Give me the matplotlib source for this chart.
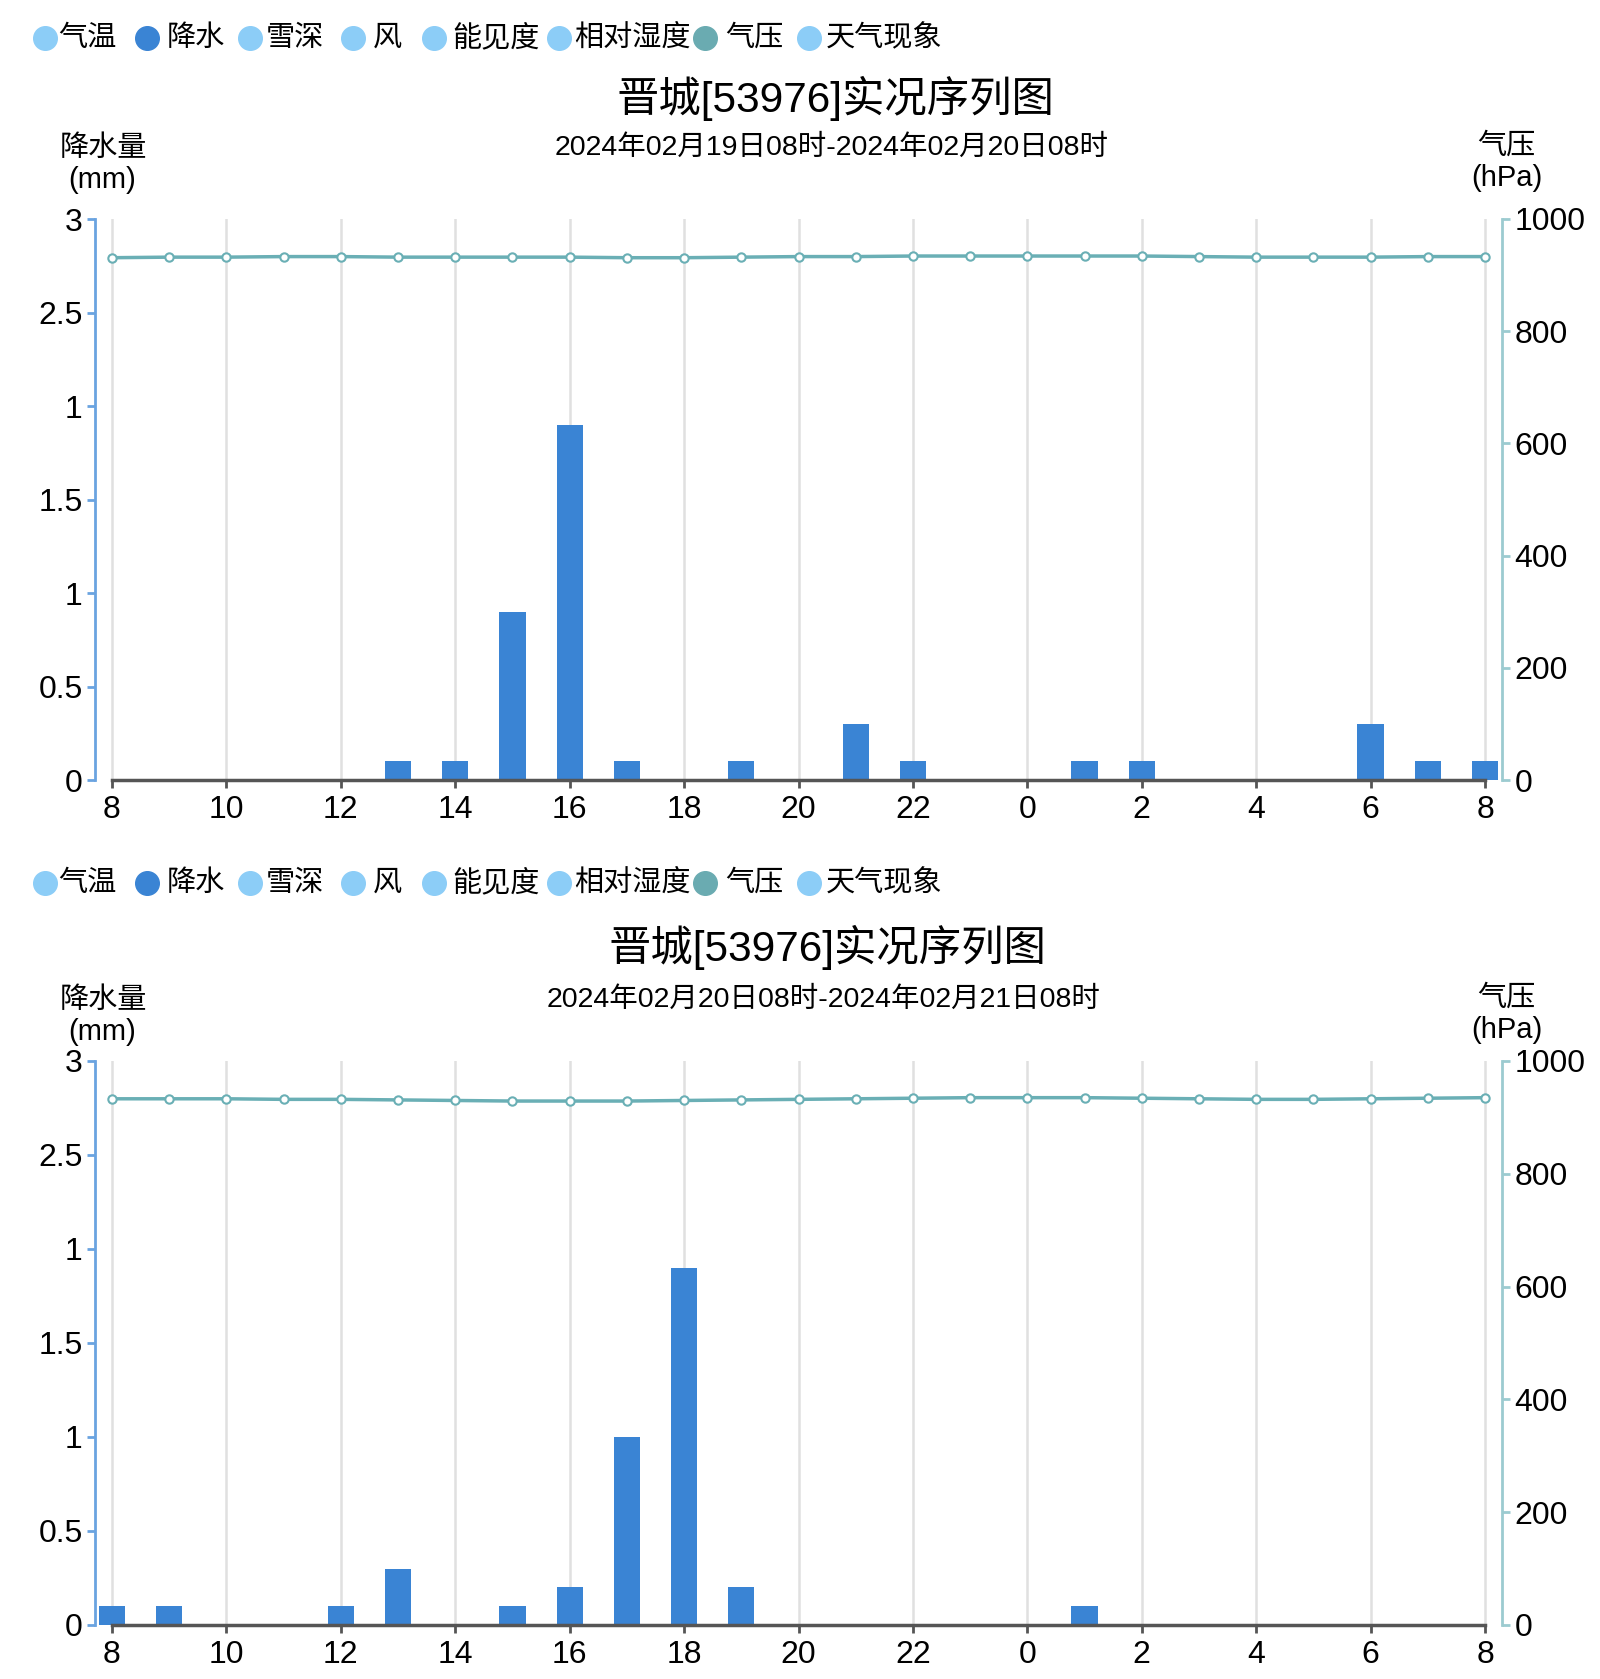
import matplotlib
matplotlib.use('Agg')
import matplotlib.pyplot as plt
from matplotlib.lines import Line2D
import numpy as np

plt.rcParams['font.family'] = ['Liberation Sans', 'Noto Sans CJK SC']

W, H = 1600, 1679

title = '晋城[53976]实况序列图'
subtitle1 = '2024年02月19日08时-2024年02月20日08时'
subtitle2 = '2024年02月20日08时-2024年02月21日08时'

legend_names = ['气温', '降水', '雪深', '风', '能见度', '相对湿度', '气压', '天气现象']
legend_colors = ['#8ccdf7', '#3a84d4', '#8ccdf7', '#8ccdf7', '#8ccdf7', '#8ccdf7', '#6aabb1', '#8ccdf7']

hours = [8, 9, 10, 11, 12, 13, 14, 15, 16, 17, 18, 19, 20, 21, 22, 23,
         0, 1, 2, 3, 4, 5, 6, 7, 8]

# precipitation (mm), hourly
precip1 = [0, 0, 0, 0, 0, 0.1, 0.1, 0.9, 1.9, 0.1, 0, 0.1, 0, 0.3, 0.1, 0,
           0, 0.1, 0.1, 0, 0, 0, 0.3, 0.1, 0.1]
precip2 = [0.1, 0.1, 0, 0, 0.1, 0.3, 0, 0.1, 0.2, 1.0, 1.9, 0.2, 0, 0, 0, 0,
           0, 0.1, 0, 0, 0, 0, 0, 0, 0]

# station pressure (hPa), hourly
pres1 = [931, 932, 932, 933, 933, 932, 932, 932, 932, 931, 931, 932, 933,
         933, 934, 934, 934, 934, 934, 933, 932, 932, 932, 933, 933]
pres2 = [933, 933, 933, 932, 932, 931, 930, 929, 929, 929, 930, 931, 932,
         933, 934, 935, 935, 935, 934, 933, 932, 932, 933, 934, 935]

yticks = [0, 0.5, 1, 1.5, 2, 2.5, 3]
ytick_labels = ['0', '0.5', '1', '1.5', '1', '2.5', '3']
pticks = [0, 200, 400, 600, 800, 1000]

BLUE = '#3a84d4'
AXBLUE = '#6aa3e0'
TEAL = '#6aafb5'

fig = plt.figure(figsize=(W / 100, H / 100), dpi=100)


def fx(px):
    return px / W


def fy(py):
    return 1 - py / H


def draw_legend(y):
    circ_x = [45, 147, 250, 353, 434, 559, 705, 809]
    text_x = [58, 167, 266, 373, 452, 574, 725, 826]
    for cx, tx, name, col in zip(circ_x, text_x, legend_names, legend_colors):
        fig.add_artist(Line2D([fx(cx)], [fy(y)], transform=fig.transFigure,
                              marker='o', markersize=17, color=col, lw=0))
        fig.text(fx(tx), fy(y), name, fontsize=21, va='center', ha='left')


def draw_panel(top, bottom, legend_y, title_y, sub_y, lab_y, title_x, sub, precip, pres):
    draw_legend(legend_y)
    fig.text(fx(title_x), fy(title_y), title, fontsize=30.5, ha='center', va='center')
    fig.text(fx(title_x - 3), fy(sub_y), sub, fontsize=20.5, ha='center', va='center')
    fig.text(fx(103), fy(lab_y), '降水量', fontsize=21, ha='center', va='center')
    fig.text(fx(102), fy(lab_y + 32), '(mm)', fontsize=21, ha='center', va='center')
    fig.text(fx(1506), fy(lab_y - 2), '气压', fontsize=21, ha='center', va='center')
    fig.text(fx(1507), fy(lab_y + 30), '(hPa)', fontsize=21, ha='center', va='center')

    left, right = 95, 1502
    ax = fig.add_axes([fx(left), fy(bottom), (right - left) / W, (bottom - top) / H])
    x = np.arange(len(hours))
    per = (1485 - 112) / 24
    ax.set_xlim(-(112 - left) / per, 24 + (right - 1485) / per)
    ax.set_ylim(0, 3)

    for xv in range(0, 25, 2):
        ax.axvline(xv, color='#e0e0e0', lw=1.8, zorder=0)

    ax.bar(x, precip, width=0.46, color=BLUE, zorder=2)

    ax.spines['top'].set_visible(False)
    ax.spines['right'].set_visible(False)
    ax.spines['left'].set_color(AXBLUE)
    ax.spines['left'].set_linewidth(2)
    ax.spines['bottom'].set_color('#555555')
    ax.spines['bottom'].set_linewidth(2.5)
    ax.spines['bottom'].set_bounds(0, 24)

    ax.set_xticks(range(0, 25, 2))
    ax.set_xticklabels([str(hours[i]) for i in range(0, 25, 2)], fontsize=23)
    ax.tick_params(axis='x', length=6, width=2, color='#555555', pad=5)
    ax.set_yticks(yticks)
    ax.set_yticklabels(ytick_labels, fontsize=23)
    ax.tick_params(axis='y', length=6, width=2, color=AXBLUE, pad=3)

    ax2 = ax.twinx()
    ax2.set_ylim(0, 1000)
    ax2.plot(x, pres, color=TEAL, lw=2.5, marker='o', markersize=6,
             markerfacecolor='white', markeredgecolor=TEAL, markeredgewidth=1.5,
             zorder=3)
    for s in ['top', 'left', 'bottom']:
        ax2.spines[s].set_visible(False)
    ax2.spines['right'].set_color('#9ccbd0')
    ax2.spines['right'].set_linewidth(2)
    ax2.set_yticks(pticks)
    ax2.set_yticklabels([str(p) for p in pticks], fontsize=23)
    ax2.tick_params(axis='y', length=6, width=2, color='#9ccbd0', pad=3)


draw_panel(219, 780, 38, 98, 148, 148, 835, subtitle1, precip1, pres1)
draw_panel(1061, 1625, 883, 947, 1000, 1000, 827, subtitle2, precip2, pres2)

plt.savefig('out.png', dpi=100)
